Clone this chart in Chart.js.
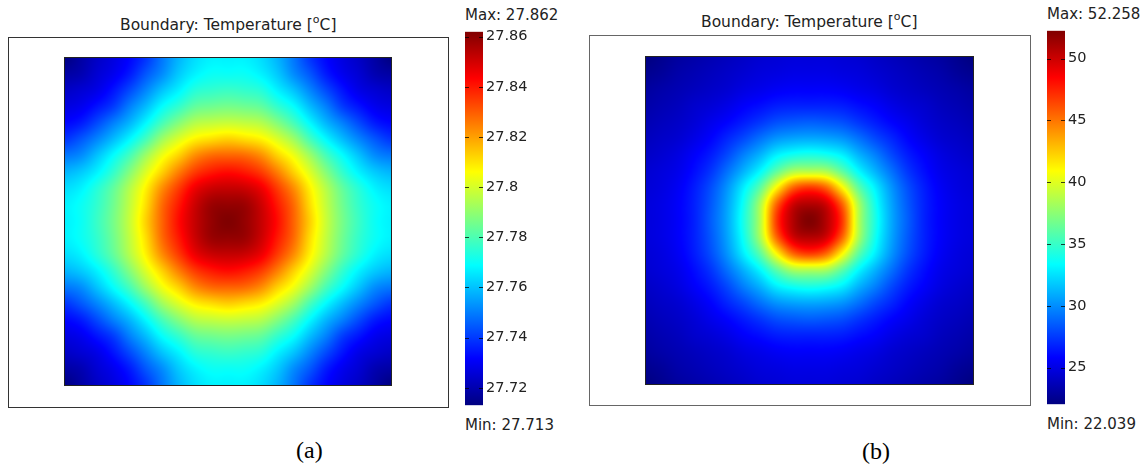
<!DOCTYPE html>
<html>
<head>
<meta charset="utf-8">
<style>
    html, body { margin: 0; background: #fff; }
    body { position: relative; width: 1147px; height: 468px; overflow: hidden; font-family: "DejaVu Sans", sans-serif; color: #222; }
    canvas, .txt { position: absolute; }
    .txt { font-size: 15px; line-height: 16px; white-space: nowrap; }
    .ttl { font-size: 15.5px; }
    .cap { font-family: "Liberation Serif", serif; font-size: 24px; line-height: 28px; color: #000; }
    sup { font-size: 11px; line-height: 0; vertical-align: 7px; }
</style>
<script src="https://cdn.jsdelivr.net/npm/chart.js@4"></script>
</head>
<body>
<div class="txt ttl" style="left:120px;top:17px">Boundary: Temperature [<sup>o</sup>C]</div>
<div class="txt ttl" style="left:701px;top:14px">Boundary: Temperature [<sup>o</sup>C]</div>
<div class="txt" style="left:465px;top:7px">Max: 27.862</div>
<div class="txt" style="left:465px;top:417px">Min: 27.713</div>
<div class="txt" style="left:1047px;top:6px">Max: 52.258</div>
<div class="txt" style="left:1047px;top:416px">Min: 22.039</div>
<div class="txt cap" style="left:296px;top:436px">(a)</div>
<div class="txt cap" style="left:862px;top:437px">(b)</div>
<canvas id="mapA" width="441" height="371" style="left:8px;top:37px"></canvas>
<canvas id="mapB" width="442" height="371" style="left:589px;top:35px"></canvas>
<canvas id="barA" width="80" height="397" style="left:465px;top:20px"></canvas>
<canvas id="barB" width="80" height="397" style="left:1047px;top:19px"></canvas>
<script>
const gridPos = [-1, -0.9, -0.8, -0.7, -0.6, -0.5, -0.4, -0.3, -0.2, -0.1, 0, 0.1, 0.2, 0.3, 0.4, 0.5, 0.6, 0.7, 0.8, 0.9, 1];

// temperatures, top row first
const tempA = [
    [27.713,27.718,27.723,27.727,27.732,27.739,27.749,27.758,27.764,27.767,27.767,27.767,27.764,27.758,27.749,27.739,27.732,27.727,27.723,27.718,27.713],
    [27.718,27.720,27.725,27.729,27.735,27.744,27.752,27.761,27.767,27.770,27.770,27.770,27.767,27.761,27.752,27.744,27.735,27.729,27.725,27.720,27.718],
    [27.723,27.725,27.728,27.734,27.742,27.751,27.760,27.767,27.774,27.776,27.777,27.776,27.774,27.767,27.760,27.751,27.742,27.734,27.728,27.725,27.723],
    [27.727,27.729,27.734,27.740,27.750,27.759,27.769,27.776,27.783,27.785,27.786,27.785,27.783,27.776,27.769,27.759,27.750,27.740,27.734,27.729,27.727],
    [27.732,27.735,27.742,27.750,27.758,27.768,27.779,27.788,27.795,27.797,27.798,27.797,27.795,27.788,27.779,27.768,27.758,27.750,27.742,27.735,27.732],
    [27.739,27.744,27.751,27.759,27.768,27.779,27.792,27.801,27.808,27.811,27.813,27.811,27.808,27.801,27.792,27.779,27.768,27.759,27.751,27.744,27.739],
    [27.749,27.752,27.760,27.769,27.779,27.792,27.804,27.813,27.823,27.828,27.829,27.828,27.823,27.813,27.804,27.792,27.779,27.769,27.760,27.752,27.749],
    [27.758,27.761,27.767,27.776,27.788,27.801,27.813,27.825,27.835,27.840,27.842,27.840,27.835,27.825,27.813,27.801,27.788,27.776,27.767,27.761,27.758],
    [27.764,27.767,27.774,27.783,27.795,27.808,27.823,27.835,27.846,27.851,27.852,27.851,27.846,27.835,27.823,27.808,27.795,27.783,27.774,27.767,27.764],
    [27.767,27.770,27.776,27.785,27.797,27.811,27.828,27.840,27.851,27.858,27.859,27.858,27.851,27.840,27.828,27.811,27.797,27.785,27.776,27.770,27.767],
    [27.767,27.770,27.777,27.786,27.798,27.813,27.829,27.842,27.852,27.859,27.862,27.859,27.852,27.842,27.829,27.813,27.798,27.786,27.777,27.770,27.767],
    [27.767,27.770,27.776,27.785,27.797,27.811,27.828,27.840,27.851,27.858,27.859,27.858,27.851,27.840,27.828,27.811,27.797,27.785,27.776,27.770,27.767],
    [27.764,27.767,27.774,27.783,27.795,27.808,27.823,27.835,27.846,27.851,27.852,27.851,27.846,27.835,27.823,27.808,27.795,27.783,27.774,27.767,27.764],
    [27.758,27.761,27.767,27.776,27.788,27.801,27.813,27.825,27.835,27.840,27.842,27.840,27.835,27.825,27.813,27.801,27.788,27.776,27.767,27.761,27.758],
    [27.749,27.752,27.760,27.769,27.779,27.792,27.804,27.813,27.823,27.828,27.829,27.828,27.823,27.813,27.804,27.792,27.779,27.769,27.760,27.752,27.749],
    [27.739,27.744,27.751,27.759,27.768,27.779,27.792,27.801,27.808,27.811,27.813,27.811,27.808,27.801,27.792,27.779,27.768,27.759,27.751,27.744,27.739],
    [27.732,27.735,27.742,27.750,27.758,27.768,27.779,27.788,27.795,27.797,27.798,27.797,27.795,27.788,27.779,27.768,27.758,27.750,27.742,27.735,27.732],
    [27.727,27.729,27.734,27.740,27.750,27.759,27.769,27.776,27.783,27.785,27.786,27.785,27.783,27.776,27.769,27.759,27.750,27.740,27.734,27.729,27.727],
    [27.723,27.725,27.728,27.734,27.742,27.751,27.760,27.767,27.774,27.776,27.777,27.776,27.774,27.767,27.760,27.751,27.742,27.734,27.728,27.725,27.723],
    [27.718,27.720,27.725,27.729,27.735,27.744,27.752,27.761,27.767,27.770,27.770,27.770,27.767,27.761,27.752,27.744,27.735,27.729,27.725,27.720,27.718],
    [27.713,27.718,27.723,27.727,27.732,27.739,27.749,27.758,27.764,27.767,27.767,27.767,27.764,27.758,27.749,27.739,27.732,27.727,27.723,27.718,27.713]
];
const tempB = [
    [22.04,22.49,22.95,23.25,23.55,23.85,24.15,24.46,24.61,24.76,24.76,24.76,24.61,24.46,24.15,23.85,23.55,23.25,22.95,22.49,22.04],
    [22.49,22.79,23.25,23.55,23.85,24.15,24.46,24.76,24.91,25.06,25.06,25.06,24.91,24.76,24.46,24.15,23.85,23.55,23.25,22.79,22.49],
    [22.95,23.25,23.55,23.85,24.15,24.46,24.91,25.21,25.51,25.67,25.67,25.67,25.51,25.21,24.91,24.46,24.15,23.85,23.55,23.25,22.95],
    [23.25,23.55,23.85,24.30,24.61,25.06,25.67,26.12,26.57,26.72,26.72,26.72,26.57,26.12,25.67,25.06,24.61,24.30,23.85,23.55,23.25],
    [23.55,23.85,24.15,24.61,25.21,25.82,26.57,27.33,28.08,28.39,28.54,28.39,28.08,27.33,26.57,25.82,25.21,24.61,24.15,23.85,23.55],
    [23.85,24.15,24.46,25.06,25.82,26.87,27.93,29.14,30.20,30.65,30.80,30.65,30.20,29.14,27.93,26.87,25.82,25.06,24.46,24.15,23.85],
    [24.15,24.46,24.91,25.67,26.57,27.93,29.59,31.11,32.92,33.82,34.13,33.82,32.92,31.11,29.59,27.93,26.57,25.67,24.91,24.46,24.15],
    [24.46,24.76,25.21,26.12,27.33,29.14,31.11,33.22,36.10,38.36,38.66,38.36,36.10,33.22,31.11,29.14,27.33,26.12,25.21,24.76,24.46],
    [24.61,24.91,25.51,26.57,28.08,30.20,32.92,36.10,41.10,45.50,46.82,45.50,41.10,36.10,32.92,30.20,28.08,26.57,25.51,24.91,24.61],
    [24.76,25.06,25.67,26.72,28.39,30.65,33.82,38.36,45.50,49.84,50.75,49.84,45.50,38.36,33.82,30.65,28.39,26.72,25.67,25.06,24.76],
    [24.76,25.06,25.67,26.72,28.54,30.80,34.13,38.66,46.82,50.75,52.26,50.75,46.82,38.66,34.13,30.80,28.54,26.72,25.67,25.06,24.76],
    [24.76,25.06,25.67,26.72,28.39,30.65,33.82,38.36,45.50,49.84,50.75,49.84,45.50,38.36,33.82,30.65,28.39,26.72,25.67,25.06,24.76],
    [24.61,24.91,25.51,26.57,28.08,30.20,32.92,36.10,41.10,45.50,46.82,45.50,41.10,36.10,32.92,30.20,28.08,26.57,25.51,24.91,24.61],
    [24.46,24.76,25.21,26.12,27.33,29.14,31.11,33.22,36.10,38.36,38.66,38.36,36.10,33.22,31.11,29.14,27.33,26.12,25.21,24.76,24.46],
    [24.15,24.46,24.91,25.67,26.57,27.93,29.59,31.11,32.92,33.82,34.13,33.82,32.92,31.11,29.59,27.93,26.57,25.67,24.91,24.46,24.15],
    [23.85,24.15,24.46,25.06,25.82,26.87,27.93,29.14,30.20,30.65,30.80,30.65,30.20,29.14,27.93,26.87,25.82,25.06,24.46,24.15,23.85],
    [23.55,23.85,24.15,24.61,25.21,25.82,26.57,27.33,28.08,28.39,28.54,28.39,28.08,27.33,26.57,25.82,25.21,24.61,24.15,23.85,23.55],
    [23.25,23.55,23.85,24.30,24.61,25.06,25.67,26.12,26.57,26.72,26.72,26.72,26.57,26.12,25.67,25.06,24.61,24.30,23.85,23.55,23.25],
    [22.95,23.25,23.55,23.85,24.15,24.46,24.91,25.21,25.51,25.67,25.67,25.67,25.51,25.21,24.91,24.46,24.15,23.85,23.55,23.25,22.95],
    [22.49,22.79,23.25,23.55,23.85,24.15,24.46,24.76,24.91,25.06,25.06,25.06,24.91,24.76,24.46,24.15,23.85,23.55,23.25,22.79,22.49],
    [22.04,22.49,22.95,23.25,23.55,23.85,24.15,24.46,24.61,24.76,24.76,24.76,24.61,24.46,24.15,23.85,23.55,23.25,22.95,22.49,22.04]
];
const rangeA = [27.713, 27.862];
const rangeB = [22.039, 52.258];
const ticksA = [27.72, 27.74, 27.76, 27.78, 27.8, 27.82, 27.84, 27.86];
const ticksB = [25, 30, 35, 40, 45, 50];

const jetPos = [0, 0.125, 0.375, 0.625, 0.875, 1];
const jetRgb = [[0, 0, 128], [0, 0, 255], [0, 255, 255], [255, 255, 0], [255, 0, 0], [128, 0, 0]];

const jet = (t) => {
    t = Math.max(0, Math.min(1, t));
    let k = 0;
    while (k < jetPos.length - 2 && t > jetPos[k + 1]) k++;
    const f = (t - jetPos[k]) / (jetPos[k + 1] - jetPos[k]);
    return jetRgb[k].map((c, i) => c + (jetRgb[k + 1][i] - c) * f);
};

const spline = (a, b, c, d, f) => b + 0.5 * f * (c - a + f * (2 * a - 5 * b + 4 * c - d + f * (3 * (b - c) + d - a)));

const readGrid = (temps, u, v) => {
    const n = temps.length - 1;
    const iu = Math.max(0, Math.min(n - 1, Math.floor(u)));
    const iv = Math.max(0, Math.min(n - 1, Math.floor(v)));
    const vals = [];
    for (let r = iv - 1; r <= iv + 2; r++) {
        const row = temps[Math.max(0, Math.min(n, r))];
        vals.push(spline(row[Math.max(0, iu - 1)], row[iu], row[iu + 1], row[Math.min(n, iu + 2)], u - iu));
    }
    return spline(vals[0], vals[1], vals[2], vals[3], v - iv);
};

// smooth shading of the grid over the chart's points, placed with its scales
const mapShade = {
    id: 'mapShade',
    afterDatasetsDraw(chart, args, opts) {
        const { x, y } = chart.scales;
        const n = gridPos.length - 1;
        const left = Math.round(x.getPixelForValue(gridPos[0]));
        const right = Math.round(x.getPixelForValue(gridPos[n]));
        const top = Math.round(y.getPixelForValue(gridPos[n]));
        const bottom = Math.round(y.getPixelForValue(gridPos[0]));
        const img = chart.ctx.createImageData(right - left, bottom - top);
        for (let py = top; py < bottom; py++) {
            const v = (gridPos[n] - y.getValueForPixel(py + 0.5)) / (gridPos[n] - gridPos[0]) * n;
            for (let px = left; px < right; px++) {
                const u = (x.getValueForPixel(px + 0.5) - gridPos[0]) / (gridPos[n] - gridPos[0]) * n;
                const t = (readGrid(opts.temps, u, v) - opts.range[0]) / (opts.range[1] - opts.range[0]);
                const c = jet(t);
                const p = ((py - top) * (right - left) + px - left) * 4;
                img.data[p] = c[0];
                img.data[p + 1] = c[1];
                img.data[p + 2] = c[2];
                img.data[p + 3] = 255;
            }
        }
        chart.ctx.clearRect(left - 2, top - 2, right - left + 4, bottom - top + 4);
        chart.ctx.putImageData(img, left, top);
        chart.ctx.save();
        chart.ctx.strokeStyle = opts.plotLine;
        chart.ctx.strokeRect(left + 0.5, top + 0.5, right - left - 1, bottom - top - 1);
        chart.ctx.strokeStyle = opts.frameLine;
        chart.ctx.strokeRect(0.5, 0.5, chart.width - 1, chart.height - 1);
        chart.ctx.restore();
    }
};

const newMap = (id, temps, range, scale, plotLine, frameLine) => {
    const points = [];
    temps.forEach((row, r) => {
        row.forEach((t, c) => {
            points.push({ x: gridPos[c], y: gridPos[gridPos.length - 1 - r], t: t });
        });
    });
    new Chart(document.getElementById(id), {
        type: 'scatter',
        data: {
            datasets: [{
                data: points,
                pointStyle: 'rect',
                pointRadius: 1,
                borderWidth: 0,
                backgroundColor: (ctx) => {
                    if (!ctx.raw) return '#000';
                    const c = jet((ctx.raw.t - range[0]) / (range[1] - range[0]));
                    return `rgb(${c[0]},${c[1]},${c[2]})`;
                }
            }]
        },
        plugins: [mapShade],
        options: {
            responsive: false,
            animation: false,
            layout: { padding: 0, autoPadding: false },
            scales: {
                x: { display: false, min: scale[0], max: scale[1] },
                y: { display: false, min: scale[2], max: scale[3] }
            },
            plugins: {
                legend: { display: false },
                tooltip: { enabled: false },
                mapShade: { temps: temps, range: range, plotLine: plotLine, frameLine: frameLine }
            }
        }
    });
};

// short black marks on both sides of the colour bar
const barMarks = {
    id: 'barMarks',
    afterDatasetsDraw(chart) {
        const { left, right } = chart.chartArea;
        const c = chart.ctx;
        c.save();
        c.strokeStyle = 'rgba(0,0,0,0.75)';
        c.beginPath();
        chart.scales.y.ticks.forEach((t) => {
            const py = Math.round(chart.scales.y.getPixelForValue(t.value)) + 0.5;
            c.moveTo(left, py);
            c.lineTo(left + 4, py);
            c.moveTo(right - 4, py);
            c.lineTo(right, py);
        });
        c.stroke();
        c.restore();
    }
};

const newBar = (id, range, ticks, axisWidth) => {
    new Chart(document.getElementById(id), {
        type: 'bar',
        data: {
            labels: ['T'],
            datasets: [{
                data: [range],
                barPercentage: 1,
                categoryPercentage: 1,
                backgroundColor: (ctx) => {
                    const s = ctx.chart.scales.y;
                    if (!ctx.chart.chartArea) return '#000';
                    const g = ctx.chart.ctx.createLinearGradient(0, s.getPixelForValue(range[0]), 0, s.getPixelForValue(range[1]));
                    jetPos.forEach((p, i) => g.addColorStop(p, `rgb(${jetRgb[i].join(',')})`));
                    return g;
                }
            }]
        },
        plugins: [barMarks],
        options: {
            responsive: false,
            animation: false,
            layout: { padding: { top: 10, bottom: 10 }, autoPadding: false },
            scales: {
                x: { display: false },
                y: {
                    position: 'right',
                    min: range[0],
                    max: range[1],
                    afterBuildTicks: (s) => { s.ticks = ticks.map((v) => ({ value: v })); },
                    afterFit: (s) => { s.width = axisWidth; },
                    grid: { display: false, drawTicks: false },
                    border: { display: false },
                    ticks: {
                        autoSkip: false,
                        padding: 3,
                        color: '#222',
                        font: { family: '"DejaVu Sans", sans-serif', size: 14.5 },
                        callback: (v) => String(v)
                    }
                }
            },
            plugins: {
                legend: { display: false },
                tooltip: { enabled: false }
            }
        }
    });
};

newMap('mapA', tempA, rangeA, [-220 / 164, 221 / 164, -186.5 / 164.5, 184.5 / 164.5], '#222', '#333');
newMap('mapB', tempB, rangeB, [-220.5 / 164.5, 221.5 / 164.5, -185.5 / 164.5, 185.5 / 164.5], '#222', '#666');
newBar('barA', rangeA, ticksA, 62);
newBar('barB', rangeB, ticksB, 62);
</script>
</body>
</html>
